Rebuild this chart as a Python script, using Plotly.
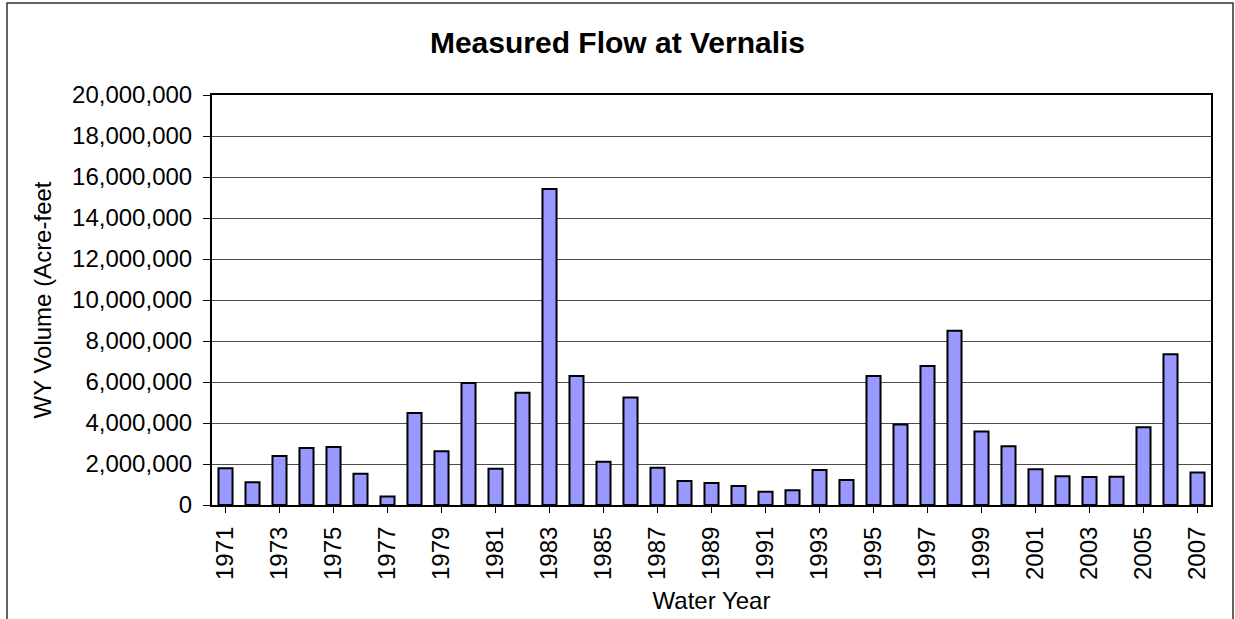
import plotly.graph_objects as go

years = [str(y) for y in range(1971, 2008)]
flow_af = [1790000, 1110000, 2390000, 2780000, 2830000, 1530000, 420000, 4490000, 2620000, 5950000,
           1770000, 5480000, 15410000, 6290000, 2110000, 5240000, 1820000, 1170000, 1070000, 930000,
           650000, 720000, 1710000, 1220000, 6290000, 3930000, 6780000, 8500000, 3580000, 2860000,
           1740000, 1400000, 1370000, 1380000, 3790000, 7350000, 1590000]
tick_years = [str(y) for y in range(1971, 2008, 2)]
y_ticks = list(range(0, 20000001, 2000000))
y_tick_text = [f"{v:,}" for v in y_ticks]

title_text = "Measured Flow at Vernalis"
x_title = "Water Year"
y_title = "WY Volume (Acre-feet"

FONT = "Liberation Sans, Arial, sans-serif"

fig = go.Figure()
fig.add_trace(go.Bar(
    x=years, y=flow_af,
    marker=dict(color="#9999FF", line=dict(color="#000000", width=2)),
    hovertemplate="%{x}: %{y:,}<extra></extra>",
))

fig.update_layout(
    width=1235, height=619,
    margin=dict(l=212, r=24, t=95, b=114, autoexpand=False),
    paper_bgcolor="white", plot_bgcolor="white",
    bargap=0.48,
    showlegend=False,
    font=dict(family=FONT, size=24, color="black"),
    title=dict(text="<b>" + title_text + "</b>", x=0.5, xref="container", xanchor="center",
               y=1 - 42 / 619, yref="container", yanchor="middle",
               font=dict(family=FONT, size=30, color="black")),
)

fig.update_xaxes(
    type="category",
    range=[-0.5, len(years) - 0.5],
    tickmode="array", tickvals=tick_years, ticktext=tick_years,
    tickangle=-90, ticks="", showgrid=False,
    tickson="boundaries", ticklen=6, tickwidth=1, tickcolor="black",
    showline=True, linecolor="black", linewidth=2, mirror=True,
    tickfont=dict(family=FONT, size=24),
    ticklabelstandoff=10,
    title=dict(text=x_title, standoff=13, font=dict(family=FONT, size=24)),
    automargin=False,
)

fig.update_yaxes(
    range=[0, 20000000],
    tickmode="array", tickvals=y_ticks, ticktext=y_tick_text,
    ticks="outside", ticklen=7, tickwidth=1, tickcolor="black",
    showgrid=True, gridcolor="#4d4d4d", gridwidth=1,
    showline=True, linecolor="black", linewidth=2, mirror=True,
    zeroline=False,
    tickfont=dict(family=FONT, size=24),
    ticklabelstandoff=6,
    title=dict(text=y_title, standoff=14, font=dict(family=FONT, size=24)),
    automargin=False,
)

# minor ticks at category boundaries (Excel-style)
fig.update_xaxes(minor=dict(ticks="outside", ticklen=6, tickwidth=1, tickcolor="black", showgrid=False))

# outer chart frame
px_w, px_h = 1235 - 212 - 24, 619 - 95 - 114
fig.add_shape(type="rect", xref="paper", yref="paper",
              x0=(7 - 212) / px_w, x1=(1233 - 212) / px_w,
              y0=(505 - 640) / px_h, y1=(505 - 3) / px_h,
              line=dict(color="#333333", width=1.5), fillcolor="rgba(0,0,0,0)", layer="below")

fig.write_html("out.html", config={"displayModeBar": False},
               post_script="document.body.style.margin='0';document.body.style.overflow='hidden';")
